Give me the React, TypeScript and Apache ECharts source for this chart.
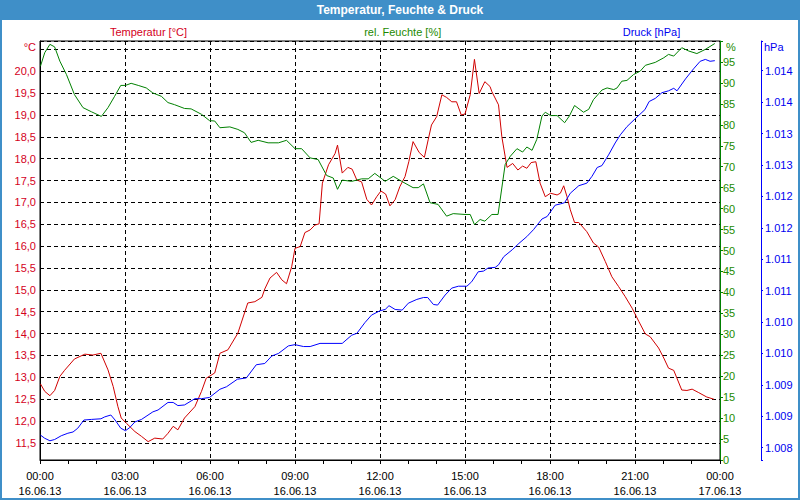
import React, { useEffect, useRef } from 'react';
import * as echarts from 'echarts';

// ---- data (minutes since 16.06.13 00:00) ----
const tempTimes = [
  1, 10, 21, 31, 42, 52, 73, 95, 112, 129,
  144, 155, 165, 172, 183, 201, 215, 229, 243, 260,
  271, 282, 292, 306, 328, 342, 352, 370, 381, 398,
  419, 440, 455, 470, 476, 487, 501, 512, 522, 533,
  540, 551, 561, 572, 582, 591, 598, 611, 625, 630,
  640, 652, 661, 671, 681, 692, 702, 713, 722, 732,
  741, 752, 762, 773, 781, 790, 803, 814, 822, 829,
  840, 851, 861, 872, 882, 892, 900, 911, 920, 930,
  942, 953, 957, 971, 978, 989, 1001, 1012, 1022, 1031,
  1040, 1050, 1059, 1070, 1081, 1095, 1102, 1109, 1116, 1123,
  1132, 1141, 1158, 1172, 1183, 1197, 1211, 1225, 1239, 1254,
  1268, 1282, 1292, 1310, 1321, 1331, 1342, 1359, 1370, 1381,
  1395, 1412, 1427,
];
const tempValues = [
  12.85, 12.68, 12.58, 12.70, 13.02, 13.16, 13.42, 13.53, 13.51, 13.55,
  13.17, 12.79, 12.33, 12.07, 11.95, 11.76, 11.65, 11.53, 11.61, 11.59,
  11.72, 11.88, 11.80, 12.07, 12.33, 12.68, 12.98, 13.10, 13.55, 13.63,
  14.01, 14.70, 14.73, 14.83, 15.02, 15.27, 15.40, 15.23, 15.14, 15.53,
  15.95, 15.99, 16.31, 16.37, 16.48, 16.51, 17.44, 17.86, 18.12, 18.31,
  17.67, 17.80, 17.76, 17.51, 17.47, 17.07, 16.94, 17.13, 17.26, 17.19,
  16.92, 17.06, 17.36, 17.59, 17.93, 18.39, 18.14, 18.03, 18.43, 18.77,
  18.96, 19.46, 19.40, 19.30, 19.30, 19.00, 19.02, 19.46, 20.27, 19.49,
  19.76, 19.65, 19.53, 19.23, 18.50, 17.80, 17.89, 17.74, 17.83, 17.78,
  17.91, 17.93, 17.44, 17.13, 17.21, 17.17, 17.21, 17.38, 17.13, 16.83,
  16.54, 16.54, 16.33, 16.07, 15.98, 15.65, 15.30, 15.08, 14.85, 14.58,
  14.28, 13.99, 13.93, 13.67, 13.44, 13.21, 13.16, 12.71, 12.70, 12.73,
  12.65, 12.55, 12.50,
];

const humTimes = [
  1, 10, 21, 31, 42, 56, 73, 91, 109, 130,
  144, 158, 171, 181, 193, 208, 225, 239, 257, 271,
  285, 306, 320, 342, 359, 370, 381, 402, 419, 433,
  447, 462, 483, 505, 522, 540, 554, 572, 589, 607,
  621, 630, 640, 660, 681, 695, 709, 731, 748, 766,
  790, 801, 812, 826, 843, 861, 875, 900, 911, 920,
  932, 942, 957, 970, 985, 996, 1010, 1022, 1031, 1042,
  1052, 1063, 1070, 1081, 1095, 1111, 1121, 1132, 1151, 1162,
  1172, 1190, 1201, 1215, 1222, 1232, 1243, 1257, 1271, 1282,
  1303, 1321, 1331, 1342, 1359, 1374, 1391, 1409, 1429,
];
const humValues = [
  94.0, 97.2, 99.2, 98.6, 95.2, 92.0, 87.2, 84.1, 83.1, 82.0,
  84.1, 86.8, 89.4, 89.4, 89.9, 89.4, 88.8, 87.6, 86.8, 85.3,
  84.8, 83.9, 83.8, 82.5, 81.0, 80.9, 79.3, 79.5, 78.9, 78.1,
  75.8, 76.3, 75.7, 75.7, 76.3, 74.3, 74.3, 72.1, 71.7, 67.9,
  67.3, 64.6, 66.8, 66.5, 67.1, 67.1, 68.4, 66.5, 67.7, 66.5,
  65.0, 65.0, 65.9, 61.4, 61.0, 58.2, 58.8, 58.6, 58.6, 56.2,
  57.4, 57.0, 58.6, 58.6, 70.5, 72.5, 74.3, 73.5, 74.7, 73.9,
  76.5, 82.1, 83.0, 82.2, 82.2, 80.5, 82.1, 84.6, 83.0, 83.7,
  86.0, 88.3, 88.8, 88.4, 88.8, 90.4, 90.6, 92.0, 92.8, 94.2,
  94.9, 96.0, 96.8, 96.4, 98.4, 97.6, 97.0, 98.0, 99.4,
];

const presTimes = [
  1, 10, 21, 31, 45, 59, 70, 80, 93, 109,
  129, 137, 150, 159, 171, 181, 190, 201, 215, 239,
  250, 271, 282, 292, 306, 328, 342, 359, 381, 395,
  418, 437, 458, 476, 491, 505, 526, 540, 558, 572,
  593, 640, 660, 671, 688, 702, 720, 731, 739, 752,
  767, 780, 798, 812, 821, 833, 842, 858, 872, 886,
  904, 914, 928, 939, 949, 964, 971, 982, 1000, 1014,
  1031, 1045, 1063, 1074, 1091, 1102, 1111, 1123, 1141, 1158,
  1169, 1180, 1190, 1204, 1218, 1229, 1243, 1261, 1281, 1290,
  1303, 1317, 1331, 1342, 1349, 1367, 1384, 1398, 1409, 1419,
  1429,
];
const presValues = [
  1008.20, 1008.15, 1008.11, 1008.13, 1008.19, 1008.23, 1008.25, 1008.31, 1008.44, 1008.45,
  1008.46, 1008.49, 1008.52, 1008.44, 1008.31, 1008.27, 1008.32, 1008.41, 1008.45, 1008.57,
  1008.60, 1008.72, 1008.72, 1008.67, 1008.68, 1008.78, 1008.78, 1008.80, 1008.93, 1008.97,
  1009.09, 1009.11, 1009.32, 1009.34, 1009.46, 1009.50, 1009.62, 1009.64, 1009.61, 1009.61,
  1009.66, 1009.66, 1009.79, 1009.82, 1009.99, 1010.11, 1010.18, 1010.20, 1010.26, 1010.20,
  1010.19, 1010.30, 1010.36, 1010.39, 1010.39, 1010.28, 1010.27, 1010.43, 1010.54, 1010.57,
  1010.57, 1010.64, 1010.80, 1010.81, 1010.86, 1010.87, 1010.91, 1011.04, 1011.15, 1011.25,
  1011.36, 1011.47, 1011.64, 1011.68, 1011.86, 1011.88, 1011.90, 1012.05, 1012.17, 1012.21,
  1012.32, 1012.46, 1012.49, 1012.66, 1012.85, 1012.98, 1013.11, 1013.24, 1013.38, 1013.51,
  1013.56, 1013.65, 1013.68, 1013.72, 1013.68, 1013.87, 1014.03, 1014.15, 1014.18, 1014.15,
  1014.16,
];

const dateLabels = ['16.06.13', '17.06.13'];
const titleText = 'Temperatur, Feuchte & Druck';
const seriesNames = ['Temperatur [°C]', 'rel. Feuchte [%]', 'Druck [hPa]'];
const unitLabels = ['°C', '%', 'hPa'];

const RED = '#d4001c';
const GREEN = '#1c8a00';
const BLUE = '#0000f0';
const FRAME = '#3f8fc8';
const FONT = '"Liberation Sans", Arial, sans-serif';

const pairs = (t: number[], v: number[]) => t.map((m, i) => [m, v[i]]);
const pad2 = (n: number) => String(n).padStart(2, '0');

export default function App() {
  const ref = useRef<HTMLDivElement>(null);

  useEffect(() => {
    if (!ref.current) return;
    const chart = echarts.init(ref.current, null, { renderer: 'svg' });

    const dashed = { color: '#000', width: 1, type: [4, 3] as any };

    chart.setOption({
      animation: false,
      backgroundColor: '#fff',
      textStyle: { fontFamily: FONT },
      grid: {
        left: 40, right: 80, top: 41, bottom: 40,
        show: true, borderColor: '#000', borderWidth: 1, backgroundColor: '#fff',
        containLabel: false,
      },
      xAxis: {
        type: 'value',
        min: 0, max: 1440, interval: 180,
        axisLine: { show: true, lineStyle: { color: '#000', width: 1 } },
        axisTick: { show: true, length: 4, lineStyle: { color: '#000' } },
        minorTick: { show: true, splitNumber: 3, length: 4, lineStyle: { color: '#000' } },
        splitLine: { show: true, lineStyle: dashed },
        axisLabel: {
          color: '#000', fontSize: 11, fontFamily: FONT, lineHeight: 15, margin: 8,
          formatter: (v: number) => {
            const m = Math.round(v) % 1440;
            return `${pad2(Math.floor(m / 60))}:${pad2(m % 60)}\n${v >= 1440 ? dateLabels[1] : dateLabels[0]}`;
          },
        },
      },
      yAxis: [
        {
          type: 'value', position: 'left',
          min: 11.11, max: 20.69, splitNumber: 19,
          axisLine: { show: true, lineStyle: { color: '#000', width: 1 } },
          axisTick: { show: false },
          splitLine: { show: true, lineStyle: dashed },
          axisLabel: {
            color: RED, fontSize: 11, fontFamily: FONT, margin: 4,
            formatter: (v: number) => {
              const k = Math.round(v * 2);
              if (Math.abs(v * 2 - k) > 1e-6 || v > 20.01) return '';
              return (k / 2).toFixed(1).replace('.', ',');
            },
          },
        },
        {
          type: 'value', position: 'right',
          min: 0, max: 100, interval: 5,
          axisLine: { show: true, lineStyle: { color: '#008000', width: 1 } },
          axisTick: { show: true, length: 3, lineStyle: { color: '#008000' } },
          splitLine: { show: false },
          axisLabel: {
            color: GREEN, fontSize: 11, fontFamily: FONT, margin: 3,
            formatter: (v: number) => (v >= 100 ? '' : String(v)),
          },
        },
        {
          type: 'value', position: 'right', offset: 41,
          min: 1007.804, max: 1014.473, splitNumber: 13,
          axisLine: { show: true, lineStyle: { color: '#0000ff', width: 1 } },
          axisTick: { show: true, length: 2, lineStyle: { color: '#0000ff' } },
          splitLine: { show: false },
          axisLabel: {
            color: BLUE, fontSize: 11, fontFamily: FONT, margin: 4,
            formatter: (v: number) => {
              const k = Math.round(v * 2);
              if (Math.abs(v * 2 - k) > 1e-6) return '';
              const r = Math.round(v);
              return `${Math.floor(r / 1000)}.${String(r % 1000).padStart(3, '0')}`;
            },
          },
        },
      ],
      series: [
        {
          name: seriesNames[0], type: 'line', yAxisIndex: 0,
          data: pairs(tempTimes, tempValues),
          showSymbol: false, symbol: 'none',
          lineStyle: { color: '#d00000', width: 1 },
          itemStyle: { color: '#d00000' },
        },
        {
          name: seriesNames[1], type: 'line', yAxisIndex: 1,
          data: pairs(humTimes, humValues),
          showSymbol: false, symbol: 'none',
          lineStyle: { color: '#008000', width: 1 },
          itemStyle: { color: '#008000' },
        },
        {
          name: seriesNames[2], type: 'line', yAxisIndex: 2,
          data: pairs(presTimes, presValues),
          showSymbol: false, symbol: 'none',
          lineStyle: { color: '#0000ff', width: 1 },
          itemStyle: { color: '#0000ff' },
        },
      ],
      graphic: [
        { type: 'rect', z: 0, shape: { x: 0, y: 0, width: 800, height: 20 }, style: { fill: FRAME } },
        { type: 'rect', z: 0, shape: { x: 1, y: 1, width: 798, height: 498 }, style: { fill: 'none', stroke: FRAME, lineWidth: 2 } },
        {
          type: 'text', x: 400, y: 10,
          style: {
            text: titleText, fill: '#fff', font: `bold 12px ${FONT}`, align: 'center', verticalAlign: 'middle',
            textShadowColor: 'rgba(0,0,0,0.45)', textShadowOffsetX: 1, textShadowOffsetY: 1, textShadowBlur: 0,
          },
        },
        { type: 'text', x: 148.5, y: 32, style: { text: seriesNames[0], fill: RED, font: `11px ${FONT}`, align: 'center', verticalAlign: 'middle' } },
        { type: 'text', x: 402.7, y: 32, style: { text: seriesNames[1], fill: GREEN, font: `11px ${FONT}`, align: 'center', verticalAlign: 'middle' } },
        { type: 'text', x: 651.5, y: 32, style: { text: seriesNames[2], fill: BLUE, font: `11px ${FONT}`, align: 'center', verticalAlign: 'middle' } },
        { type: 'text', x: 36, y: 47, style: { text: unitLabels[0], fill: RED, font: `11px ${FONT}`, align: 'right', verticalAlign: 'middle' } },
        { type: 'text', x: 726, y: 47, style: { text: unitLabels[1], fill: GREEN, font: `11px ${FONT}`, align: 'left', verticalAlign: 'middle' } },
        { type: 'text', x: 764, y: 47, style: { text: unitLabels[2], fill: BLUE, font: `11px ${FONT}`, align: 'left', verticalAlign: 'middle' } },
      ],
    });

    return () => chart.dispose();
  }, []);

  return <div ref={ref} style={{ position: 'absolute', left: 0, top: 0, width: 800, height: 500 }} />;
}
